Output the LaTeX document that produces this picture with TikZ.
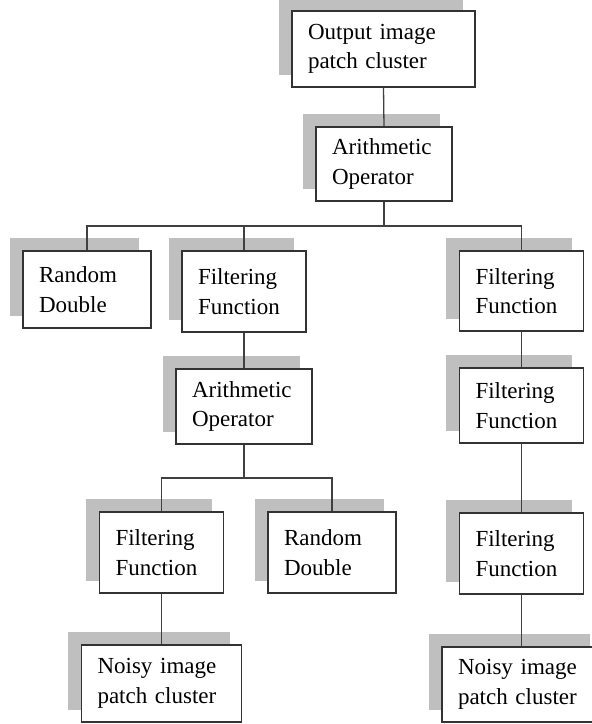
\documentclass[tikz,border=0pt]{standalone}
\usepackage{fontspec}
\setmainfont{Liberation Serif}
\usetikzlibrary{backgrounds}
\begin{document}
\begin{tikzpicture}[x=1pt,y=-1pt,
  blk/.style={draw=black!80, line width=1.3pt, fill=white, align=left,
    inner xsep=16pt, inner ysep=0pt, text width=#1,
    font=\fontsize{23}{29.5}\selectfont},
  wire/.style={draw=black!75, line width=1.3pt},
  shade/.style={fill=gray!50}]
\useasboundingbox (0,0) rectangle (592,724);

% tree blocks (centre, text width, height)
\node[blk=151pt, minimum height=76pt] (out) at (383.5,49)    {Output image\\patch cluster};
\node[blk=104pt, minimum height=74pt] (ar1) at (384,164)     {Arithmetic\\Operator};
\node[blk=96pt,  minimum height=77pt] (rd1) at (87,289.5)    {Random\\Double};
\node[blk=92pt,  minimum height=81pt] (fl1) at (244,291.5)   {Filtering\\Function};
\node[blk=92pt,  minimum height=80pt] (fr1) at (521.5,291)   {Filtering\\Function};
\node[blk=104pt, minimum height=75pt] (ar2) at (244,406.5)   {Arithmetic\\Operator};
\node[blk=92pt,  minimum height=75pt] (fr2) at (521.5,405.5) {Filtering\\Function};
\node[blk=92pt,  minimum height=81pt] (fl2) at (161.5,552.5) {Filtering\\Function};
\node[blk=96pt,  minimum height=81pt] (rd2) at (332,552.5)   {Random\\Double};
\node[blk=92pt,  minimum height=81pt] (fr3) at (521.5,553.5) {Filtering\\Function};
\node[blk=128pt, minimum height=77pt] (ns1) at (161.5,683.5) {Noisy image\\patch cluster};
\node[blk=128pt, minimum height=75pt] (ns2) at (522,684.5)   {Noisy image\\patch cluster};

% flat grey shadows, offset up and to the left
\begin{scope}[on background layer]
\foreach \n in {out,ar1,rd1,fl1,fr1,ar2,fr2,fl2,rd2,fr3,ns1,ns2}
  \fill[shade] ([shift={(-12.5pt,12.5pt)}]\n.south west) rectangle ([shift={(-12.5pt,12.5pt)}]\n.north east);
\end{scope}

% branch points
\coordinate (b1) at (384,226);
\coordinate (b2) at (244,478);

% connectors
\draw[wire] (out.south) -- (ar1.north);
\draw[wire] (ar1.south) -- (b1);
\draw[wire] (rd1.north) |- (b1) -| (fr1.north);
\draw[wire] (fl1.north) -- (fl1.north |- b1);
\draw[wire] (fl1.south) -- (ar2.north);
\draw[wire] (ar2.south) -- (b2);
\draw[wire] (fl2.north) |- (b2) -| (rd2.north);
\draw[wire] (fl2.south) -- (ns1.north);
\draw[wire] (fr1.south) -- (fr2.north);
\draw[wire] (fr2.south) -- (fr3.north);
\draw[wire] (fr3.south) -- (fr3.south |- ns2.north);
\end{tikzpicture}
\end{document}
